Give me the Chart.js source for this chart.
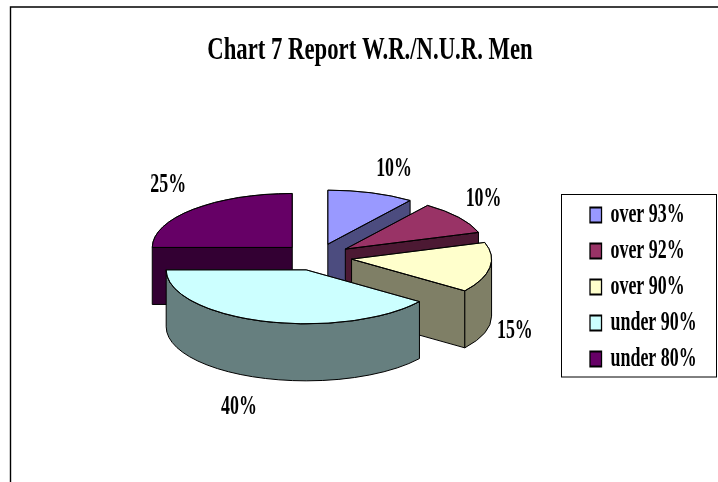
<!DOCTYPE html>
<html><head><meta charset="utf-8">
<style>html,body{margin:0;padding:0;background:#fff}canvas{display:block}</style>
<script src="https://cdn.jsdelivr.net/npm/chart.js@4"></script>
</head><body><canvas id="c" width="718" height="482"></canvas>
<script>
const titleText = 'Chart 7 Report W.R./N.U.R. Men';
const categories = ['over 93%','over 92%','over 90%','under 90%','under 80%'];
const shares = [10,10,15,40,25];
const topColors = ['#9999FF','#993366','#FFFFCC','#CCFFFF','#660066'];
const sideColors = ['#4C4C7F','#4C1933','#7F7F66','#667F7F','#330033'];
const drawOrder = [4,0,1,2,3];
const labelNudge = [[23,-24],[25,-19],[25,63],[-24,86],[-25,-25]];

const FONT = 'bold 28px "Liberation Serif"';
const SQUEEZE = 0.64, TILT = 54/140, DEPTH = 57, EXPLODE = 35;
const CX = 317, CY = 257;

function drawSlice(ctx, arc, i){
  const s = arc.startAngle, e = arc.endAngle, m = (s+e)/2;
  const ox = CX + Math.cos(m)*EXPLODE, oy = CY + Math.sin(m)*EXPLODE*TILT;
  const rx = arc.outerRadius, ry = rx*TILT;
  const pt = a => [ox + Math.cos(a)*rx, oy + Math.sin(a)*ry];
  ctx.save();
  ctx.lineWidth = 1; ctx.strokeStyle = '#000'; ctx.fillStyle = sideColors[i];
  const wall = a => {
    const p = pt(a);
    ctx.beginPath(); ctx.moveTo(ox,oy); ctx.lineTo(p[0],p[1]);
    ctx.lineTo(p[0],p[1]+DEPTH); ctx.lineTo(ox,oy+DEPTH); ctx.closePath();
    ctx.fill(); ctx.stroke();
  };
  if (Math.cos(s) < -1e-6) wall(s);
  if (Math.cos(e) > 1e-6) wall(e);
  const a0 = Math.max(s,0), a1 = Math.min(e,Math.PI);
  if (a1 > a0){
    ctx.beginPath();
    ctx.ellipse(ox,oy,rx,ry,0,a0,a1);
    ctx.ellipse(ox,oy+DEPTH,rx,ry,0,a1,a0,true);
    ctx.closePath(); ctx.fill(); ctx.stroke();
  }
  ctx.save();
  ctx.translate(ox,oy); ctx.scale(1,TILT); ctx.translate(-arc.x,-arc.y);
  arc.draw(ctx);
  ctx.restore();
  ctx.beginPath(); ctx.moveTo(ox,oy); ctx.ellipse(ox,oy,rx,ry,0,s,e); ctx.closePath(); ctx.stroke();
  ctx.restore();
}

const pie3d = {
  id:'pie3d',
  beforeDraw(chart){
    if (chart.$wrapped) return;
    chart.$wrapped = true;
    const ctx = chart.ctx, t = chart.titleBlock, l = chart.legend;
    const td = t.draw.bind(t), ld = l.draw.bind(l);
    t.draw = function(){
      ctx.save(); ctx.translate(370,0); ctx.scale(0.71,1); ctx.translate(-chart.width/2,0);
      td(); ctx.restore();
    };
    l.draw = function(){
      const h = l.legendHitBoxes[0];
      ctx.save(); ctx.translate(590,215-(h.top+h.height/2)); ctx.scale(SQUEEZE,1); ctx.translate(-(l.left+8),0);
      ld(); ctx.restore();
    };
  },
  beforeDatasetDraw(chart, args){
    const ctx = chart.ctx, arcs = args.meta.data;
    drawOrder.forEach(i => drawSlice(ctx, arcs[i], i));
    return false;
  },
  afterDatasetsDraw(chart){
    const ctx = chart.ctx, arcs = chart.getDatasetMeta(0).data;
    const total = shares.reduce((a,b)=>a+b,0);
    ctx.save();
    ctx.font = FONT; ctx.fillStyle = '#000'; ctx.textAlign='center'; ctx.textBaseline='middle';
    arcs.forEach((arc,i)=>{
      const m = (arc.startAngle+arc.endAngle)/2, rx = arc.outerRadius;
      const x = CX + Math.cos(m)*(EXPLODE+rx) + labelNudge[i][0];
      const y = CY + Math.sin(m)*(EXPLODE+rx)*TILT + labelNudge[i][1];
      ctx.save(); ctx.translate(x,y); ctx.scale(SQUEEZE,1);
      ctx.fillText(Math.round(shares[i]/total*100)+'%',0,0);
      ctx.restore();
    });
    ctx.restore();
  },
  afterDraw(chart){
    const ctx = chart.ctx;
    ctx.save();
    ctx.strokeStyle='#000'; ctx.lineWidth=1;
    ctx.strokeRect(561.5,194.5,155,182.5);
    ctx.lineWidth=1.4;
    ctx.beginPath(); ctx.moveTo(10.5,482); ctx.lineTo(10.5,7); ctx.lineTo(718,7); ctx.stroke();
    ctx.restore();
  }
};

new Chart(document.getElementById('c'),{
  type:'pie',
  data:{labels:categories,datasets:[{data:shares,backgroundColor:topColors,borderColor:'#000',borderWidth:1}]},
  plugins:[pie3d],
  options:{
    responsive:false,animation:false,radius:140,
    layout:{padding:0},
    plugins:{
      tooltip:{enabled:false},
      title:{display:true,text:titleText,color:'#000',font:{family:'Liberation Serif',size:32,weight:'bold'},padding:{top:32,bottom:8}},
      legend:{position:'right',labels:{
        color:'#000',boxWidth:18,boxHeight:15,padding:8,font:{family:'Liberation Serif',size:28,weight:'bold'},
        generateLabels(chart){
          return Chart.controllers.pie.overrides.plugins.legend.labels.generateLabels(chart).map(x=>Object.assign(x,{lineWidth:2}));
        }
      }}
    }
  }
});
</script></body></html>
